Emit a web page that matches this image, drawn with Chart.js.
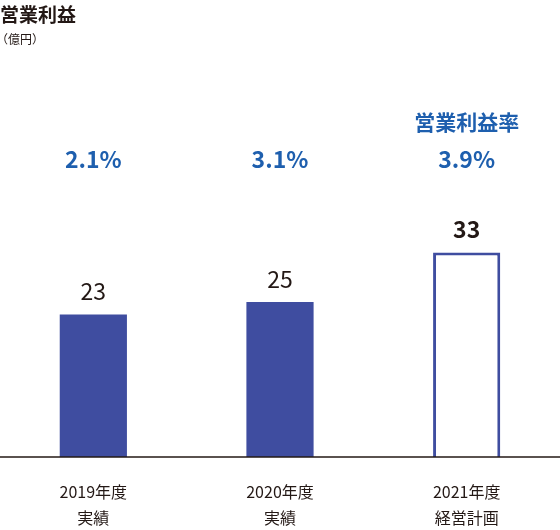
<!DOCTYPE html>
<html><head><meta charset="utf-8">
<script src="https://cdn.jsdelivr.net/npm/chart.js@4"></script>
<style>html,body{margin:0;padding:0;background:#fff}#wrap{width:560px;height:530px}</style>
</head><body><div id="wrap"><canvas id="c"></canvas></div>
<script>
const years = ['2019年度', '2020年度', '2021年度']
const kinds = ['実績', '実績', '経営計画']
const profit = [23, 25, 33]
const margin = ['2.1%', '3.1%', '3.9%']

const font = '"Noto Sans CJK JP", "Noto Sans", sans-serif'
const navy = '#3f4da0'
const blue = '#1e5fae'

const labels = {
  id: 'labels',
  afterDraw(chart) {
    const ctx = chart.ctx
    const area = chart.chartArea
    const meta = chart.getDatasetMeta(0)
    ctx.save()
    ctx.textAlign = 'left'
    ctx.textBaseline = 'alphabetic'
    ctx.fillStyle = '#231815'
    ctx.font = 'bold 19px ' + font
    ctx.fillText('営業利益', 0, 22)
    ctx.font = '12px ' + font
    ctx.fillText('（億円）', -4, 44)
    // baseline
    ctx.strokeStyle = '#231815'
    ctx.lineWidth = 1.5
    ctx.beginPath()
    ctx.moveTo(0, area.bottom)
    ctx.lineTo(560, area.bottom)
    ctx.stroke()
    ctx.textAlign = 'center'
    meta.data.forEach((bar, i) => {
      ctx.fillStyle = '#231815'
      ctx.font = (i == 2 ? 'bold ' : '') + '23px ' + font
      ctx.fillText(profit[i], bar.x, bar.y - 14)
      ctx.fillStyle = blue
      ctx.font = 'bold 23px ' + font
      ctx.fillText(margin[i], bar.x, 168)
      ctx.fillStyle = '#231815'
      ctx.font = '16px ' + font
      ctx.fillText(years[i], bar.x, 498)
      ctx.fillText(kinds[i], bar.x, 524)
    })
    ctx.fillStyle = blue
    ctx.font = 'bold 21px ' + font
    ctx.fillText('営業利益率', meta.data[2].x, 130)
    ctx.restore()
  }
}

new Chart(document.getElementById('c'), {
  type: 'bar',
  data: {
    labels: years,
    datasets: [{
      data: profit,
      backgroundColor: [navy, navy, '#ffffff'],
      borderColor: navy,
      borderWidth: [0, 0, 3],
      barPercentage: 0.36,
      categoryPercentage: 1
    }]
  },
  options: {
    responsive: true,
    maintainAspectRatio: false,
    animation: false,
    layout: { padding: { top: 85, bottom: 73, left: 0, right: 0 } },
    plugins: { legend: { display: false }, tooltip: { enabled: false } },
    scales: {
      x: { display: false },
      y: { display: false, min: 0, max: 60 }
    }
  },
  plugins: [labels]
})
</script></body></html>
